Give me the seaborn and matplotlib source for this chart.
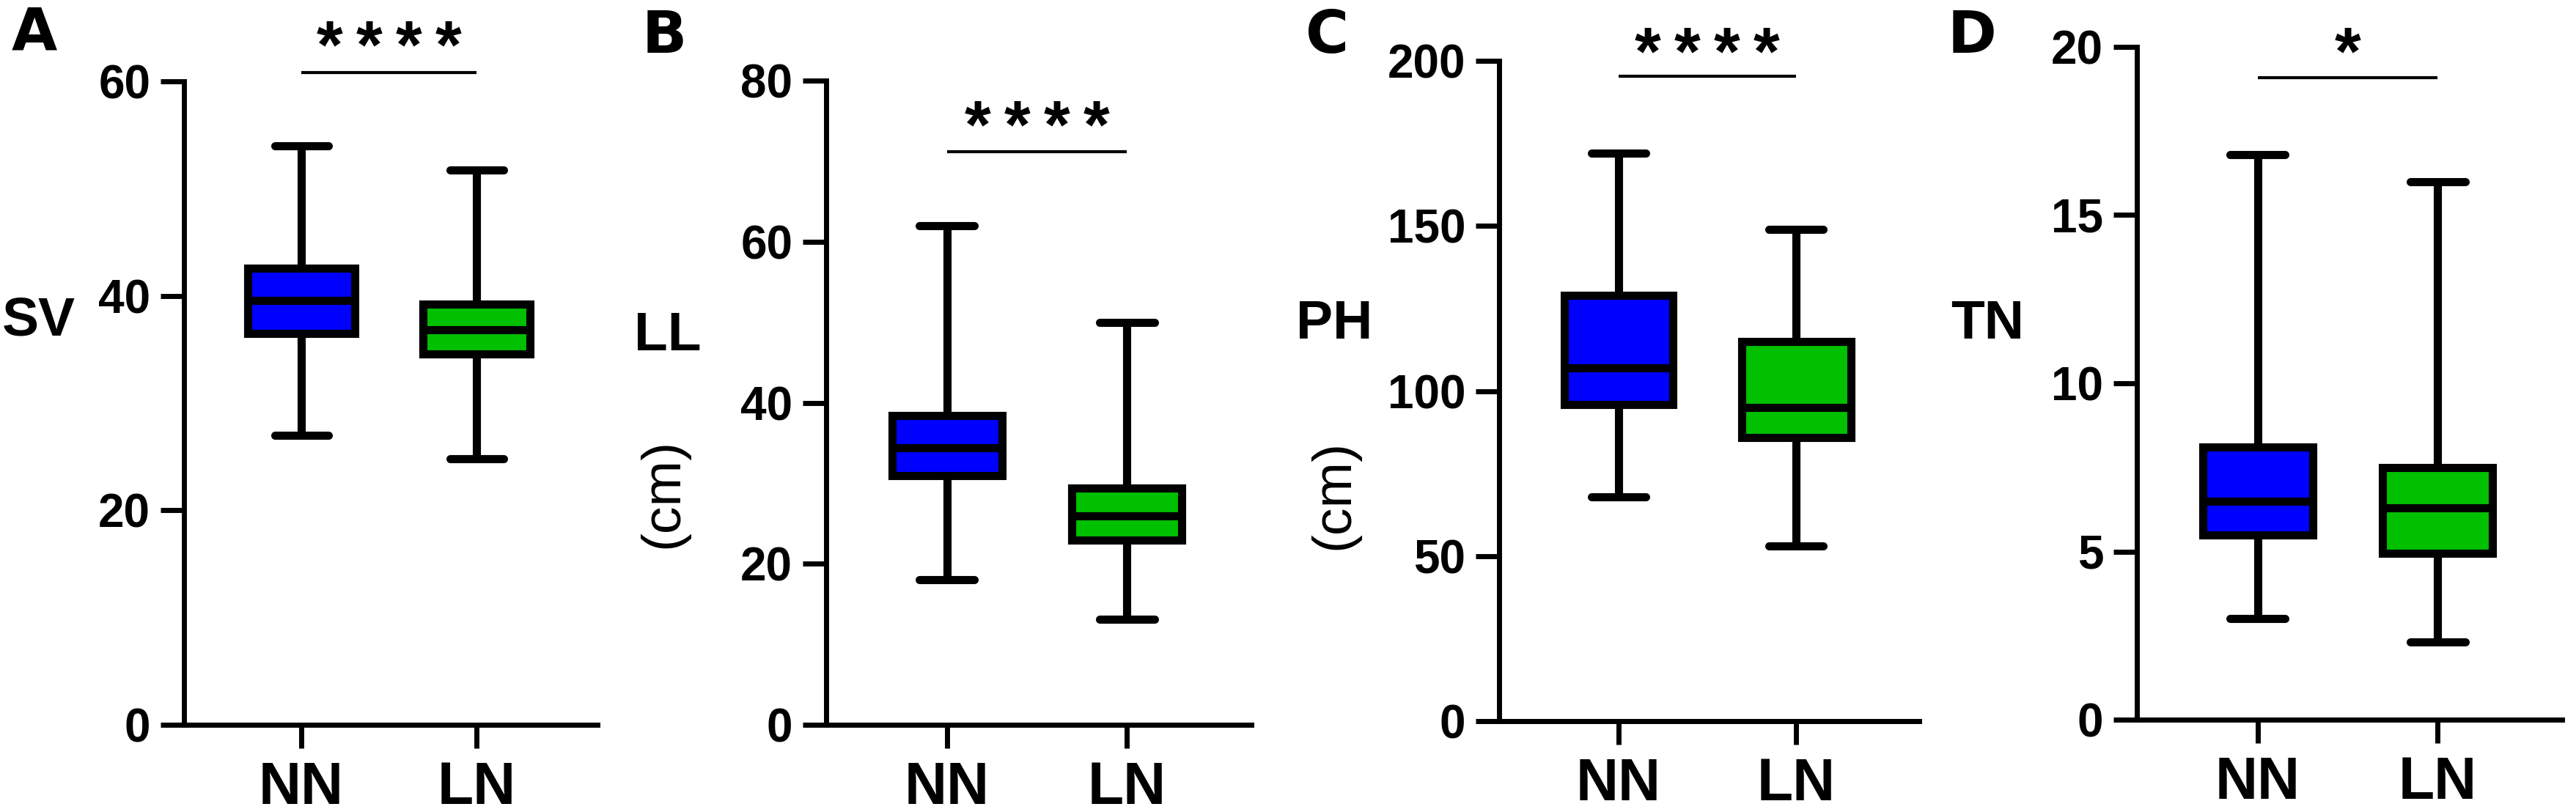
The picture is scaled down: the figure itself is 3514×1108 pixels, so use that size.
import numpy as np
import pandas as pd
import matplotlib
matplotlib.use("Agg")
import matplotlib.pyplot as plt
import seaborn as sns

# ---------------- data (five-number summaries: min, Q1, median, Q3, max) ----------------
groups = ["NN", "LN"]
box_colors = ["#0000FF", "#00C000"]

sv_nn = [27.0, 36.5, 39.6, 42.6, 54.0]
sv_ln = [24.8, 34.6, 36.8, 39.2, 51.7]
ll_nn = [18.0, 30.9, 34.4, 38.4, 62.0]
ll_ln = [13.1, 22.9, 25.9, 29.4, 50.0]
ph_nn = [68.0, 96.0, 107.0, 129.0, 172.0]
ph_ln = [53.0, 86.0, 95.0, 115.0, 149.0]
tn_nn = [3.0, 5.5, 6.5, 8.1, 16.8]
tn_ln = [2.3, 4.95, 6.3, 7.5, 16.0]

sv_ticks = [0, 20, 40, 60]
ll_ticks = [0, 20, 40, 60, 80]
ph_ticks = [0, 50, 100, 150, 200]
tn_ticks = [0, 5, 10, 15, 20]

panel_letters = ["A", "B", "C", "D"]
trait_labels = ["SV", "LL", "PH", "TN"]
unit_labels = ["", "(cm)", "(cm)", ""]
n_stars = [4, 4, 4, 1]
bracket_y = [60.8, 71.2, 195.3, 19.08]
star_y = [64.9, 76.5, 207.8, 20.35]

# ---------------- layout ----------------
W, H = 3514, 1108
fig = plt.figure(figsize=(W / 100, H / 100), dpi=100)
sns.set_theme(style="ticks")
plt.rcParams["font.family"] = ["Liberation Sans", "DejaVu Sans"]
plt.rcParams["font.weight"] = "bold"

# axes boxes in pixels: left, right, top, bottom
boxes = [(251, 815, 111, 989), (1127, 1707, 110, 989),
         (2045, 2618, 83, 984), (2915, 3495, 64, 982)]
letter_pos = [(47, 47), (906, 50), (1811, 50), (2690, 50)]
trait_pos = [(53, 438), (911, 458), (1820, 442), (2711, 442)]
unit_pos = [(0, 0), (905, 673), (1820, 675), (0, 0)]
XLIM = (-0.67, 1.69)
STAR_PITCH_PX = 54
STAR_FS = 66

panels = [
    (sv_nn, sv_ln, sv_ticks),
    (ll_nn, ll_ln, ll_ticks),
    (ph_nn, ph_ln, ph_ticks),
    (tn_nn, tn_ln, tn_ticks),
]

for i, (nn, ln, ticks) in enumerate(panels):
    l, r, t, b = boxes[i]
    ax = fig.add_axes([l / W, (H - b) / H, (r - l) / W, (b - t) / H])
    df = pd.DataFrame({"group": np.repeat(groups, len(nn)),
                       "value": list(nn) + list(ln)})
    sns.boxplot(data=df, x="group", y="value", hue="group", order=groups,
                hue_order=groups, palette=box_colors, saturation=1,
                width=0.61, whis=(0, 100), linecolor="black", linewidth=8,
                showfliers=False, legend=False, ax=ax)
    ax.set_xlim(*XLIM)
    ax.set_ylim(ticks[0], ticks[-1])
    ax.set_yticks(ticks)
    ax.set_xlabel("")
    ax.set_ylabel("")
    ax.set_facecolor("white")
    sns.despine(ax=ax)
    for s in ["left", "bottom"]:
        ax.spines[s].set_linewidth(5)
        ax.spines[s].set_color("black")
    ax.tick_params(axis="both", length=23, width=5, color="black")
    ax.tick_params(axis="y", labelsize=46, pad=10)
    ax.tick_params(axis="x", labelsize=58, pad=12)
    for lab in ax.get_xticklabels() + ax.get_yticklabels():
        lab.set_fontweight("bold")
        lab.set_color("black")

    # significance bracket
    ax.plot([0, 1], [bracket_y[i], bracket_y[i]], color="black", lw=3,
            clip_on=False, solid_capstyle="butt")
    px_per_unit = (r - l) / (XLIM[1] - XLIM[0])
    pitch = STAR_PITCH_PX / px_per_unit
    n = n_stars[i]
    for k in range(n):
        xs = 0.5 + (k - (n - 1) / 2) * pitch
        ax.annotate("*", xy=(xs, star_y[i]), xytext=(0, -0.58 * STAR_FS),
                    textcoords="offset points", ha="center", va="baseline",
                    fontsize=STAR_FS, fontweight="bold", color="black",
                    annotation_clip=False)

    # labels
    lx, ly = letter_pos[i]
    fig.text(lx / W, 1 - ly / H, panel_letters[i], ha="center", va="center",
             fontsize=58, fontweight="bold", family="DejaVu Sans", color="black")
    tx, ty = trait_pos[i]
    fig.text(tx / W, 1 - ty / H, trait_labels[i], ha="center", va="center",
             fontsize=54, fontweight="bold", color="black")
    if unit_labels[i]:
        ux, uy = unit_pos[i]
        fig.text(ux / W, 1 - uy / H, unit_labels[i], ha="center", va="center",
                 rotation=90, fontsize=54, fontweight="normal", color="black")

fig.savefig("out.png", dpi=100, facecolor="white")
